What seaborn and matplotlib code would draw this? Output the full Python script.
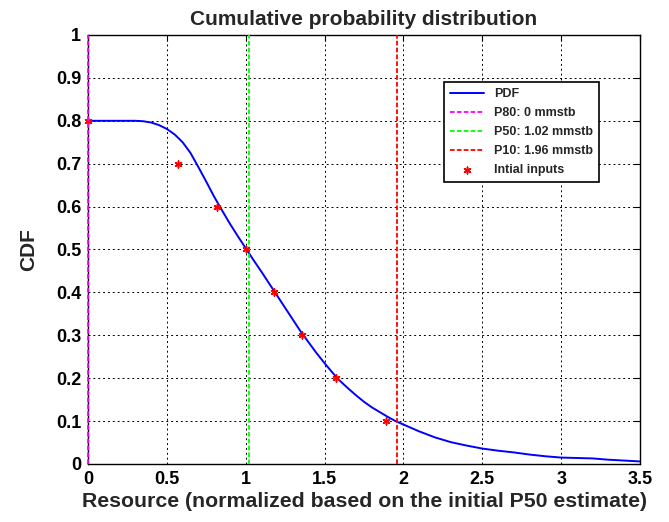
import matplotlib
matplotlib.use("Agg")
import matplotlib.pyplot as plt
import seaborn as sns
import pandas as pd

# Data
curve_x = [0.0, 0.25, 0.3, 0.35, 0.4, 0.45, 0.5, 0.55, 0.6, 0.65, 0.7, 0.75, 0.8, 0.85,
           0.9, 0.95, 1.0, 1.05, 1.1, 1.15, 1.2, 1.25, 1.3, 1.35, 1.4, 1.45, 1.5, 1.55,
           1.6, 1.65, 1.7, 1.75, 1.8, 1.85, 1.9, 1.95, 2.0, 2.1, 2.2, 2.3, 2.4, 2.5,
           2.6, 2.7, 2.8, 2.9, 3.0, 3.1, 3.2, 3.3, 3.4, 3.5]
curve_y = [0.8, 0.8, 0.8, 0.799, 0.796, 0.79, 0.781, 0.768, 0.75, 0.725, 0.692, 0.658,
           0.623, 0.591, 0.56, 0.531, 0.503, 0.475, 0.448, 0.42, 0.392, 0.364, 0.336,
           0.308, 0.283, 0.258, 0.235, 0.213, 0.193, 0.176, 0.16, 0.145, 0.132, 0.121,
           0.11, 0.1, 0.092, 0.076, 0.062, 0.051, 0.043, 0.036, 0.031, 0.027, 0.022,
           0.018, 0.015, 0.014, 0.013, 0.01, 0.008, 0.006]
input_x = [0.0, 0.57, 0.82, 1.0, 1.18, 1.36, 1.57, 1.89]
input_y = [0.8, 0.7, 0.6, 0.5, 0.4, 0.3, 0.2, 0.1]
p80, p50, p10 = 0.0, 1.02, 1.96
labels = ["PDF", "P80: 0 mmstb", "P50: 1.02 mmstb", "P10: 1.96 mmstb", "Intial inputs"]
title = "Cumulative probability distribution"
xlabel = "Resource (normalized based on the initial P50 estimate)"
ylabel = "CDF"
xticks = [0, 0.5, 1, 1.5, 2, 2.5, 3, 3.5]
xticklabels = ["0", "0.5", "1", "1.5", "2", "2.5", "3", "3.5"]
yticks = [0, 0.1, 0.2, 0.3, 0.4, 0.5, 0.6, 0.7, 0.8, 0.9, 1]
yticklabels = ["0", "0.1", "0.2", "0.3", "0.4", "0.5", "0.6", "0.7", "0.8", "0.9", "1"]

sns.set_style("white")
plt.rcParams["font.family"] = ["Liberation Sans", "DejaVu Sans"]
plt.rcParams["font.weight"] = "bold"

fig = plt.figure(figsize=(6.69, 5.22), dpi=100)
ax = fig.add_axes([88/669, 58/522, 552/669, 429/522])

df_curve = pd.DataFrame({"x": curve_x, "y": curve_y})
df_in = pd.DataFrame({"x": input_x, "y": input_y})

dash = (0, (2.6, 1.2))
sns.lineplot(data=df_curve, x="x", y="y", ax=ax, color="#0000ff", lw=1.4,
             label=labels[0], sort=False, zorder=3)
ax.axvline(p80, color="#ff00ff", ls=dash, lw=1.3, label=labels[1], zorder=6, clip_on=False)
ax.axvline(p50, color="#00ff00", ls=dash, lw=1.3, label=labels[2], zorder=4)
ax.axvline(p10, color="#ff0000", ls=dash, lw=1.3, label=labels[3], zorder=4)
sns.scatterplot(data=df_in, x="x", y="y", ax=ax, marker=(6, 2, 0), color="#ff0000",
                s=24, edgecolor="#ff0000", linewidth=1.1, label=labels[4], zorder=5,
                clip_on=False)

ax.set_xlim(0, 3.5)
ax.set_ylim(0, 1)
ax.set_xticks(xticks)
ax.set_xticklabels(xticklabels)
ax.set_yticks(yticks)
ax.set_yticklabels(yticklabels)
ax.grid(True, color="black", ls=(0, (2, 3)), lw=0.7)
ax.tick_params(direction="in", length=4, width=0.8, top=True, right=True,
               labelsize=13, pad=5, colors="black")
for lab in ax.get_xticklabels() + ax.get_yticklabels():
    lab.set_fontweight("bold")
for sp in ax.spines.values():
    sp.set_color("black")
    sp.set_linewidth(1.0)

ax.set_title(title, fontsize=15, fontweight="bold", pad=7)
ax.set_xlabel(xlabel, fontsize=15.3, fontweight="bold", labelpad=3)
ax.set_ylabel(ylabel, fontsize=15, fontweight="bold", labelpad=13)

leg = ax.legend(loc="upper left", bbox_to_anchor=((444-88)/552, (464-81.7)/429),
                fontsize=9, frameon=True, fancybox=False, edgecolor="black",
                framealpha=1, borderpad=0.5, labelspacing=0.56, handlelength=2.7,
                handletextpad=0.8, borderaxespad=0)
leg.get_frame().set_linewidth(1.2)
for t in leg.get_texts():
    t.set_fontweight("bold")

fig.savefig("out.png", dpi=100)
